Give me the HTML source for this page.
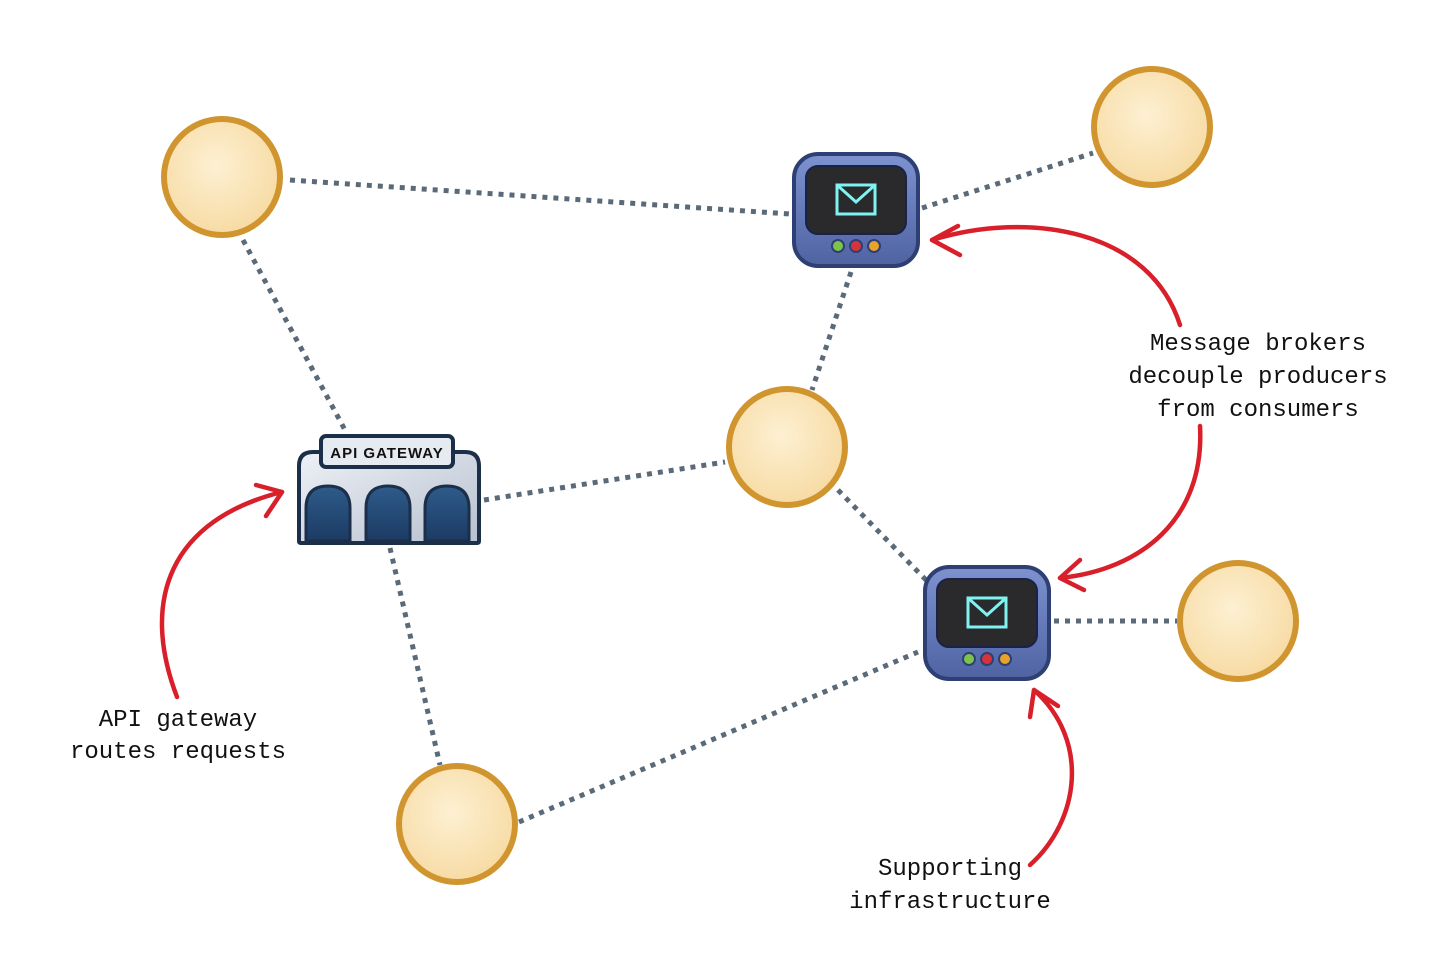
<!DOCTYPE html>
<html><head><meta charset="utf-8"><style>
html,body{margin:0;padding:0;background:#fff;}
svg{display:block}
text{font-family:"Liberation Mono","DejaVu Sans Mono",monospace;font-size:24px;fill:#111;text-anchor:middle;}
</style></head><body>
<svg width="1456" height="977" viewBox="0 0 1456 977" xmlns="http://www.w3.org/2000/svg">
<defs>
<radialGradient id="cg" cx="0.45" cy="0.4" r="0.6"><stop offset="0" stop-color="#fdf0d2"/><stop offset="1" stop-color="#f7dba4"/></radialGradient>
<linearGradient id="bg" x1="0" y1="0" x2="0" y2="1"><stop offset="0" stop-color="#7d92cf"/><stop offset="1" stop-color="#4f63a3"/></linearGradient>
<linearGradient id="gg" x1="0" y1="0" x2="1" y2="1"><stop offset="0" stop-color="#eef1f6"/><stop offset="1" stop-color="#b6c0cf"/></linearGradient>
<linearGradient id="ag" x1="0" y1="0" x2="0" y2="1"><stop offset="0" stop-color="#2f5b8a"/><stop offset="1" stop-color="#1b3b63"/></linearGradient>
<g id="broker">
<rect x="0" y="0" width="124" height="112" rx="24" fill="url(#bg)" stroke="#2e3f73" stroke-width="4"/>
<rect x="12" y="12" width="100" height="68" rx="12" fill="#2a2a2c" stroke="#1a2248" stroke-width="2"/>
<rect x="43" y="31" width="38" height="29" fill="none" stroke="#7ff3f0" stroke-width="3"/>
<path d="M43 31 L62 48 L81 31" fill="none" stroke="#7ff3f0" stroke-width="3"/>
<circle cx="44" cy="92" r="6" fill="#7ec34a" stroke="#2e3f73" stroke-width="2"/>
<circle cx="62" cy="92" r="6" fill="#d8333a" stroke="#2e3f73" stroke-width="2"/>
<circle cx="80" cy="92" r="6" fill="#e8a32a" stroke="#2e3f73" stroke-width="2"/>
</g>
</defs>
<g stroke="#5a6a78" stroke-width="5" stroke-dasharray="5 6" fill="none">
<line x1="290" y1="180" x2="790" y2="214"/>
<line x1="922" y1="208" x2="1093" y2="153"/>
<line x1="243" y1="240" x2="345" y2="430"/>
<line x1="484" y1="500" x2="725" y2="462"/>
<line x1="851" y1="272" x2="812" y2="390"/>
<line x1="838" y1="490" x2="928" y2="582"/>
<line x1="1054" y1="621" x2="1177" y2="621"/>
<line x1="390" y1="548" x2="440" y2="765"/>
<line x1="519" y1="822" x2="918" y2="652"/>
</g>
<g fill="url(#cg)" stroke="#d0952f" stroke-width="6">
<circle cx="222" cy="177" r="58"/>
<circle cx="1152" cy="127" r="58"/>
<circle cx="787" cy="447" r="58"/>
<circle cx="1238" cy="621" r="58"/>
<circle cx="457" cy="824" r="58"/>
</g>
<!-- gateway -->
<path d="M299 541 L299 466 Q299 452 313 452 L465 452 Q479 452 479 466 L479 541 Q479 543 477 543 L301 543 Q299 543 299 541 Z" fill="url(#gg)" stroke="#1b2f4a" stroke-width="4"/>
<rect x="321" y="436" width="132" height="31" rx="5" fill="#e6eaf1" stroke="#1b2f4a" stroke-width="4"/>
<text x="387" y="458" style="font-family:'Liberation Sans',sans-serif;font-weight:bold;font-size:15px;letter-spacing:1px">API GATEWAY</text>
<g fill="url(#ag)" stroke="#1b2f4a" stroke-width="3">
<path d="M306 541 L306 508 Q306 486 328 486 Q350 486 350 508 L350 541 Z"/>
<path d="M366 541 L366 508 Q366 486 388 486 Q410 486 410 508 L410 541 Z"/>
<path d="M425 541 L425 508 Q425 486 447 486 Q469 486 469 508 L469 541 Z"/>
</g>
<use href="#broker" x="794" y="154"/>
<use href="#broker" x="925" y="567"/>
<!-- red arrows -->
<g stroke="#d9202a" stroke-width="4.5" fill="none" stroke-linecap="round" stroke-linejoin="round">
<path d="M1180 325 C1150 230 1030 210 932 240"/>
<path d="M958 226 L932 240 L960 255"/>
<path d="M1200 426 C1205 520 1140 570 1060 578"/>
<path d="M1080 560 L1060 578 L1084 590"/>
<path d="M177 697 C140 600 170 520 282 492"/>
<path d="M256 485 L282 492 L266 516"/>
<path d="M1030 865 C1080 820 1090 740 1034 690"/>
<path d="M1030 717 L1034 690 L1058 706"/>
</g>
<text x="1258" y="350">Message brokers</text>
<text x="1258" y="383">decouple producers</text>
<text x="1258" y="416">from consumers</text>
<text x="178" y="726">API gateway</text>
<text x="178" y="758">routes requests</text>
<text x="950" y="875">Supporting</text>
<text x="950" y="908">infrastructure</text>
</svg>
</body></html>
